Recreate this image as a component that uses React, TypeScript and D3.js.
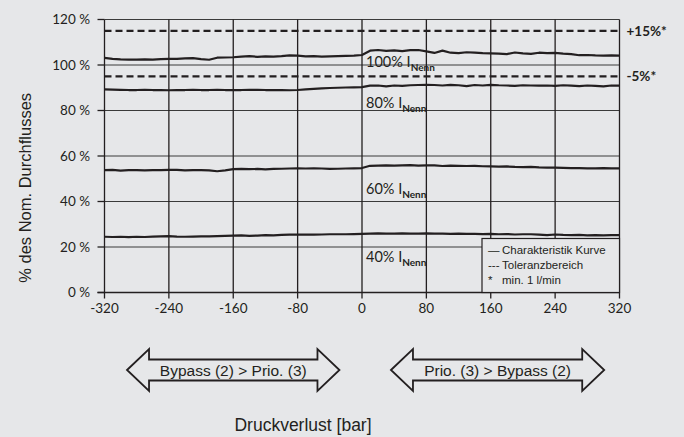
import { useEffect, useRef } from "react";
import * as d3 from "d3";

// pressure loss sample points [bar]
const pressure = d3.range(-320, 321, 10);
const xTicks = [-320, -240, -160, -80, 0, 80, 160, 240, 320];
const yTicks = [0, 20, 40, 60, 80, 100, 120];

const flow100 = [
  103.1, 102.7, 102.5, 102.4, 102.4, 102.5, 102.4, 102.6, 102.7, 102.7, 102.9, 103.0, 102.6,
  102.3, 103.2, 103.3, 103.4, 103.7, 103.9, 103.6, 103.8, 103.7, 103.9, 104.2, 104.1, 103.8,
  103.9, 103.7, 103.8, 103.9, 104.0, 104.1, 104.4, 106.3, 106.6, 106.2, 106.4, 106.1, 106.5,
  106.6, 106.0, 105.3, 106.3, 105.4, 105.2, 105.6, 105.4, 105.2, 105.1, 105.0, 104.8, 105.5,
  105.1, 104.9, 105.4, 105.2, 105.3, 105.0, 104.8, 104.3, 104.4, 104.2, 104.1, 104.2, 104.1,
];
const flow80 = [
  89.3, 89.2, 89.1, 89.0, 89.0, 89.1, 89.0, 89.0, 88.9, 89.0, 89.0, 89.1, 89.0, 89.0, 89.1,
  89.0, 89.0, 89.0, 89.1, 89.1, 89.0, 89.0, 89.0, 88.9, 89.0, 89.3, 89.5, 89.7, 89.9, 90.0,
  90.1, 90.2, 90.3, 90.9, 91.0, 90.6, 91.0, 90.8, 91.1, 91.2, 91.3, 91.2, 91.0, 91.3, 91.1,
  90.7, 91.2, 91.0, 91.3, 91.1, 91.0, 90.8, 91.1, 91.0, 90.9, 91.0, 90.8, 91.1, 90.9, 90.7,
  91.0, 90.8, 90.6, 91.0, 90.9,
];
const flow60 = [
  53.8, 53.9, 53.6, 53.8, 53.8, 53.7, 53.8, 53.8, 53.9, 53.9, 53.7, 53.8, 53.8, 53.7, 53.3,
  53.7, 54.2, 54.3, 54.2, 54.3, 54.1, 54.3, 54.4, 54.5, 54.6, 54.5, 54.6, 54.5, 54.3, 54.4,
  54.5, 54.6, 54.7, 55.7, 55.8, 55.9, 55.8, 55.9, 56.0, 55.8, 55.9, 55.9, 55.6, 55.8, 55.7,
  55.6, 55.7, 55.5, 55.4, 55.3, 55.4, 55.2, 55.1, 55.2, 55.0, 54.9, 54.9, 54.8, 54.7, 54.7,
  54.6, 54.6, 54.7, 54.6, 54.6,
];
const flow40 = [
  24.5, 24.4, 24.5, 24.3, 24.5, 24.4, 24.6, 24.7, 24.8, 24.6, 24.5, 24.6, 24.7, 24.7, 24.8,
  24.9, 25.0, 25.1, 24.9, 25.0, 25.2, 25.1, 25.3, 25.4, 25.4, 25.5, 25.4, 25.5, 25.6, 25.6,
  25.6, 25.7, 25.8, 25.9, 26.0, 25.9, 25.9, 26.0, 25.9, 25.9, 26.0, 25.9, 25.9, 25.8, 25.9,
  25.8, 25.8, 25.7, 25.8, 25.6, 25.7, 25.5, 25.6, 25.6, 25.4, 25.2, 25.5, 25.3, 25.2, 25.3,
  25.1, 25.2, 25.1, 25.2, 25.2,
];

const curves = [
  { pct: "100%", values: flow100 },
  { pct: "80%", values: flow80 },
  { pct: "60%", values: flow60 },
  { pct: "40%", values: flow40 },
];
// where the curve labels sit (flow %)
const labelY = [99.2, 80.9, 43.4, 13.2];

const tolerance = [
  { value: 115, label: "+15%*" },
  { value: 95, label: "-5%*" },
];

const legendItems = [
  { sym: "\u2014", text: "Charakteristik Kurve" },
  { sym: "---", text: "Toleranzbereich" },
  { sym: "*", text: "min. 1 l/min" },
];

const arrows = [
  { from: -292, to: -28, text: "Bypass (2) > Prio. (3)" },
  { from: 36, to: 301, text: "Prio. (3) > Bypass (2)" },
];

const W = 684;
const H = 437;
const BG = "#e6e7e9";
const INK = "#231f20";
const tickFont = "Lato, 'Open Sans', sans-serif";
const sansFont = "'Liberation Sans', Arial, sans-serif";

export default function App() {
  const svgRef = useRef<SVGSVGElement | null>(null);

  useEffect(() => {
    const svg = d3.select(svgRef.current);
    svg.selectAll("*").remove();

    const x = d3.scaleLinear().domain([-320, 320]).range([104.5, 619.5]);
    const y = d3.scaleLinear().domain([0, 120]).range([292.5, 19.5]);

    svg.append("rect").attr("width", W).attr("height", H).attr("fill", BG);

    // grid
    const grid = svg.append("g");
    grid
      .selectAll(".hg")
      .data(yTicks.filter((d) => d > 0))
      .join("line")
      .attr("x1", x(-320))
      .attr("x2", x(320))
      .attr("y1", (d) => y(d))
      .attr("y2", (d) => y(d))
      .attr("stroke", "#3a3a3a")
      .attr("stroke-width", 1);
    grid
      .selectAll(".vg")
      .data(xTicks)
      .join("line")
      .attr("x1", (d) => x(d))
      .attr("x2", (d) => x(d))
      .attr("y1", y(120))
      .attr("y2", y(0) + 6)
      .attr("stroke", INK)
      .attr("stroke-width", 1.3);

    // y axis ticks + labels
    grid
      .selectAll(".yt")
      .data(yTicks)
      .join("line")
      .attr("x1", x(-320) - 7)
      .attr("x2", x(-320))
      .attr("y1", (d) => y(d))
      .attr("y2", (d) => y(d))
      .attr("stroke", INK)
      .attr("stroke-width", 1.3);
    svg
      .append("line")
      .attr("x1", x(-320) - 7)
      .attr("x2", x(320))
      .attr("y1", y(0))
      .attr("y2", y(0))
      .attr("stroke", INK)
      .attr("stroke-width", 1.6);

    svg
      .append("g")
      .selectAll("text")
      .data(yTicks)
      .join("text")
      .attr("x", 90)
      .attr("y", (d) => y(d) + 4.5)
      .attr("text-anchor", "end")
      .attr("font-family", tickFont)
      .attr("font-size", 13.5)
      .attr("fill", INK)
      .text((d) => `${d} %`);

    svg
      .append("g")
      .selectAll("text")
      .data(xTicks)
      .join("text")
      .attr("x", (d) => x(d))
      .attr("y", y(0) + 20)
      .attr("text-anchor", "middle")
      .attr("font-family", tickFont)
      .attr("font-size", 13.5)
      .attr("fill", INK)
      .text((d) => d);

    // tolerance band
    svg
      .append("g")
      .selectAll("line")
      .data(tolerance)
      .join("line")
      .attr("x1", x(-320))
      .attr("x2", x(320))
      .attr("y1", (d) => y(d.value))
      .attr("y2", (d) => y(d.value))
      .attr("stroke", INK)
      .attr("stroke-width", 2.2)
      .attr("stroke-dasharray", "7,4");
    svg
      .append("g")
      .selectAll("text")
      .data(tolerance)
      .join("text")
      .attr("x", x(320) + 7)
      .attr("y", (d) => y(d.value) + 5)
      .attr("font-family", tickFont)
      .attr("font-weight", "bold")
      .attr("font-size", 13.5)
      .attr("fill", INK)
      .text((d) => d.label);

    // characteristic curves
    const line = d3
      .line<number>()
      .x((_, i) => x(pressure[i]))
      .y((d) => y(d))
      .curve(d3.curveLinear);
    svg
      .append("g")
      .selectAll("path")
      .data(curves)
      .join("path")
      .attr("d", (d) => line(d.values))
      .attr("fill", "none")
      .attr("stroke", INK)
      .attr("stroke-width", 2.2)
      .attr("stroke-linejoin", "round");

    const lab = svg
      .append("g")
      .selectAll("text")
      .data(curves)
      .join("text")
      .attr("x", x(5))
      .attr("y", (_, i) => y(labelY[i]))
      .attr("font-family", tickFont)
      .attr("font-size", 14.5)
      .attr("fill", INK);
    lab.append("tspan").text((d) => `${d.pct} I`);
    lab
      .append("tspan")
      .attr("dy", 4)
      .attr("font-size", 10)
      .attr("font-weight", "bold")
      .text("Nenn");

    // legend
    const lg = svg.append("g");
    lg.append("rect")
      .attr("x", 482)
      .attr("y", 238.5)
      .attr("width", x(320) - 482)
      .attr("height", y(0) - 238.5)
      .attr("fill", BG)
      .attr("stroke", INK)
      .attr("stroke-width", 1.2);
    legendItems.forEach((it, i) => {
      const t = lg
        .append("text")
        .attr("x", 488)
        .attr("y", 254 + i * 15.2)
        .attr("font-family", sansFont)
        .attr("font-size", 11.5)
        .attr("fill", INK);
      t.append("tspan").text(it.sym);
      t.append("tspan").attr("x", 502).text(it.text);
    });

    // direction arrows
    const ay = 370;
    const shaft = 10.5;
    const head = 21;
    const hl = 22;
    arrows.forEach((a) => {
      const x0 = x(a.from);
      const x1 = x(a.to);
      const pts: [number, number][] = [
        [x0, ay],
        [x0 + hl, ay - head],
        [x0 + hl, ay - shaft],
        [x1 - hl, ay - shaft],
        [x1 - hl, ay - head],
        [x1, ay],
        [x1 - hl, ay + head],
        [x1 - hl, ay + shaft],
        [x0 + hl, ay + shaft],
        [x0 + hl, ay + head],
      ];
      svg
        .append("path")
        .attr("d", d3.line()(pts) + "Z")
        .attr("fill", BG)
        .attr("stroke", INK)
        .attr("stroke-width", 1.8)
        .attr("stroke-linejoin", "miter");
      svg
        .append("text")
        .attr("x", (x0 + x1) / 2)
        .attr("y", ay + 5.5)
        .attr("text-anchor", "middle")
        .attr("font-family", sansFont)
        .attr("font-size", 15.5)
        .attr("fill", INK)
        .text(a.text);
    });

    // axis titles
    svg
      .append("text")
      .attr("transform", `translate(31,${y(46)}) rotate(-90)`)
      .attr("text-anchor", "middle")
      .attr("font-family", sansFont)
      .attr("font-size", 16.5)
      .attr("fill", INK)
      .text("% des Nom. Durchflusses");
    svg
      .append("text")
      .attr("x", 303)
      .attr("y", 431)
      .attr("text-anchor", "middle")
      .attr("font-family", sansFont)
      .attr("font-size", 17.5)
      .attr("fill", INK)
      .text("Druckverlust [bar]");
  }, []);

  return (
    <svg
      ref={svgRef}
      width={W}
      height={H}
      style={{ position: "absolute", left: 0, top: 0, display: "block" }}
    />
  );
}
